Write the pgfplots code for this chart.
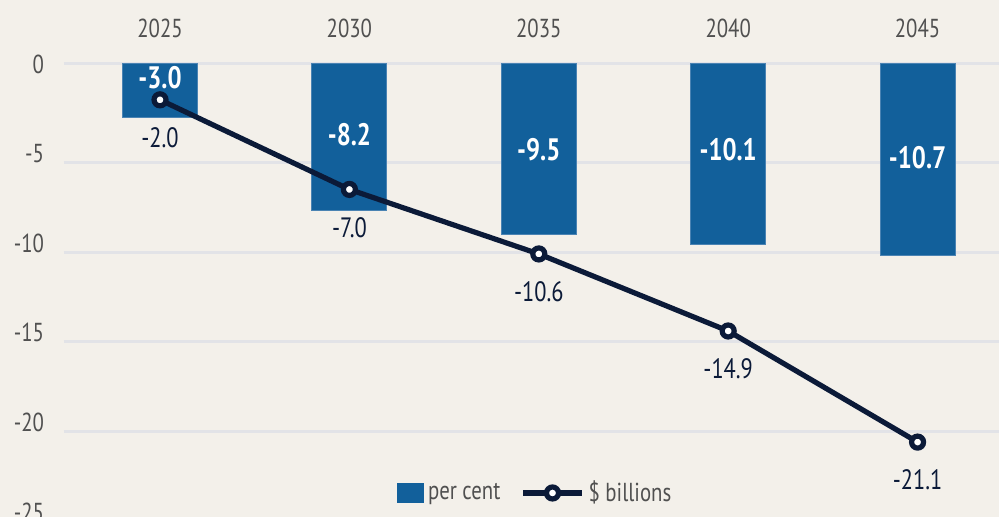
\documentclass[border=0pt]{standalone}
\usepackage{pgfplots}
\pgfplotsset{compat=1.18}
\usepackage{fontspec}
\setmainfont{PT Sans}[FakeStretch=0.8]
\usetikzlibrary{backgrounds}
\definecolor{bg}{HTML}{F3F0EA}
\definecolor{barblue}{HTML}{12609B}
\definecolor{baredge}{HTML}{4A83B3}
\definecolor{navy}{HTML}{0B1A38}
\definecolor{gridc}{HTML}{E2E3E7}
\definecolor{ticktext}{HTML}{505050}
\begin{document}
\begin{tikzpicture}
\begin{axis}[
  at={(0pt,0pt)}, anchor=south west,
  scale only axis, width=467.5pt, height=226.5pt,
  xmin=-0.507, xmax=4.43, ymin=-25.28, ymax=0,
  axis line style={draw=none}, tick style={draw=none},
  xtick={0,1,2,3,4}, xticklabels={2025,2030,2035,2040,2045},
  xticklabel pos=upper,
  xticklabel style={anchor=base, yshift=13pt},
  ytick={0,-5,-10,-15,-20,-25}, yticklabels={0,-5,-10,-15,-20,-25},
  yticklabel style={anchor=east, xshift=-6.5pt},
  ticklabel style={font=\fontsize{13}{15}\selectfont, text=ticktext},
  extra y ticks={0,-5.5,-10.5,-15.5,-20.5}, extra y tick labels={},
  extra y tick style={grid=major, major grid style={draw=gridc, line width=1.5pt}},
  legend style={at={(0.505,0.053)}, anchor=center, draw=none, fill=none,
    font=\fontsize{13}{15}\selectfont, text=ticktext,
    /tikz/every even column/.append style={column sep=8pt}},
  legend columns=2,
]
\addplot[ybar, bar width=37.5pt, fill=barblue, draw=baredge, line width=0.5pt,
  legend image code/.code={\fill[barblue] (0pt,-4.75pt) rectangle (13pt,4.75pt);}]
  coordinates {(0,-3.0) (1,-8.2) (2,-9.5) (3,-10.1) (4,-10.7)};
\addlegendentry{per cent}
\node[text=white, font=\bfseries\fontsize{15.5}{17}\selectfont] at (axis cs:0,-0.78) {-3.0};
\node[text=white, font=\bfseries\fontsize{15.5}{17}\selectfont] at (axis cs:1,-3.96) {-8.2};
\node[text=white, font=\bfseries\fontsize{15.5}{17}\selectfont] at (axis cs:2,-4.8) {-9.5};
\node[text=white, font=\bfseries\fontsize{15.5}{17}\selectfont] at (axis cs:3,-4.8) {-10.1};
\node[text=white, font=\bfseries\fontsize{15.5}{17}\selectfont] at (axis cs:4,-5.2) {-10.7};
\addplot[navy, line width=2.6pt, mark=*, mark size=3pt,
  mark options={fill=white, draw=navy, line width=2.6pt},
  nodes near coords, point meta=explicit symbolic,
  every node near coord/.append style={anchor=center, yshift=-19pt,
    font=\fontsize{14}{16}\selectfont, text=navy},
  legend image code/.code={\draw[navy, line width=2.6pt] (0pt,0pt) -- (29.5pt,0pt);
    \draw[navy, fill=white, line width=2.6pt] (14.75pt,0pt) circle (3pt);}]
  coordinates {(0,-2.0)[-2.0] (1,-7.0)[-7.0] (2,-10.6)[-10.6] (3,-14.9)[-14.9] (4,-21.1)[-21.1]};
\addlegendentry{\$ billions}
\end{axis}
\pgfresetboundingbox
\begin{scope}[on background layer]
\fill[bg] (-32pt,0pt) rectangle (467.5pt,258.5pt);
\end{scope}
\path[use as bounding box] (-32pt,0pt) rectangle (467.5pt,258.5pt);
\end{tikzpicture}
\end{document}
